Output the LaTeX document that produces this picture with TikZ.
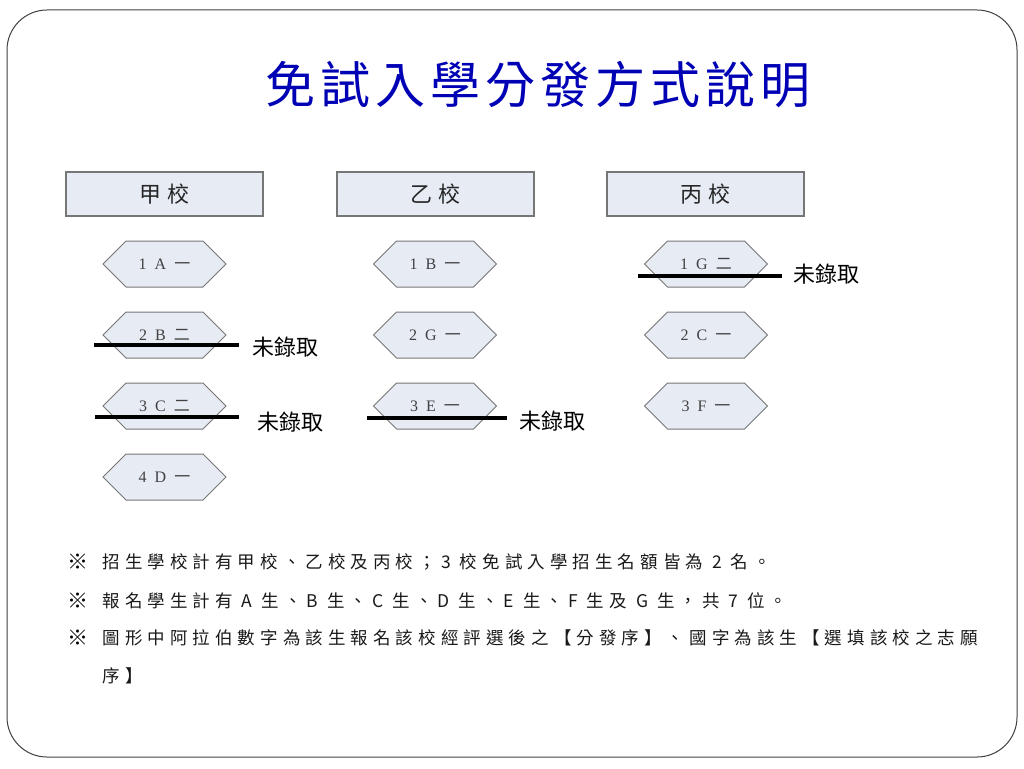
\documentclass[tikz,border=0pt]{standalone}
\usepackage{fontspec}
\setmainfont{Liberation Serif}
\newfontfamily\cjk{Noto Sans CJK TC}
\newfontfamily\cjktitle[LetterSpace=10]{Noto Sans CJK TC}
\newfontfamily\cjknote[LetterSpace=29]{Noto Sans CJK TC}
\usetikzlibrary{positioning,
        shapes.symbols,
        calc}
\definecolor{titleblue}{HTML}{0000B4}
\definecolor{boxfill}{HTML}{E7EBF4}
\definecolor{boxline}{HTML}{767676}

\begin{document}
\begin{tikzpicture}[x=1pt,y=-1pt,
        school/.style={rectangle,draw=boxline,line width=1.4pt,fill=boxfill,
                minimum width=197pt,minimum height=44pt,
                font=\cjk\fontsize{22}{22}\selectfont,text=black!85},
        choice/.style={signal,signal to=east and west,draw=boxline,line width=1pt,
                fill=boxfill,minimum width=123pt,minimum height=46pt,inner sep=0pt,
                font=\fontsize{16}{16}\selectfont,text=black!75},
        strike/.style={line width=3.5pt,black},
        reject/.style={anchor=west,font=\cjk\fontsize{22}{22}\selectfont},
        note/.style={anchor=west,font=\cjknote\fontsize{17.5}{17.5}\selectfont,text=black!90},
        refsign/.style={anchor=west,font=\cjk\bfseries\fontsize{21}{21}\selectfont,text=black}]
        \useasboundingbox (0,0) rectangle (1024,768);
        \draw[black!75,line width=1pt,rounded corners=40pt] (7,10) rectangle (1017,757);

        \node [font=\cjktitle\fontsize{50}{50}\selectfont,text=titleblue] (title) at (538,85) {免試入學分發方式說明};

        % schools
        \node [school] (sA) at (164.5,194) {甲\hspace{6pt}校};
        \node [school] (sB) at (435.5,194) {乙\hspace{6pt}校};
        \node [school] (sC) at (705.5,194) {丙\hspace{6pt}校};

        % choices
        \node [choice] (a1) at (164.5,264) {1\hspace{8pt}A\hspace{8pt}{\cjk 一}};
        \node [choice] (a2) at (164.5,335) {2\hspace{8pt}B\hspace{8pt}{\cjk 二}};
        \node [choice] (a3) at (164.5,406) {3\hspace{8pt}C\hspace{8pt}{\cjk 二}};
        \node [choice] (a4) at (164.5,477) {4\hspace{8pt}D\hspace{8pt}{\cjk 一}};
        \node [choice] (b1) at (435,264) {1\hspace{8pt}B\hspace{8pt}{\cjk 一}};
        \node [choice] (b2) at (435,335) {2\hspace{8pt}G\hspace{8pt}{\cjk 一}};
        \node [choice] (b3) at (435,406) {3\hspace{8pt}E\hspace{8pt}{\cjk 一}};
        \node [choice] (c1) at (706,264) {1\hspace{8pt}G\hspace{8pt}{\cjk 二}};
        \node [choice] (c2) at (706,335) {2\hspace{8pt}C\hspace{8pt}{\cjk 一}};
        \node [choice] (c3) at (706,406) {3\hspace{8pt}F\hspace{8pt}{\cjk 一}};

        % not admitted
        \draw [strike] ($(a2.west)+(-8,10)$) -- ($(a2.east)+(12,10)$) coordinate (ra2);
        \draw [strike] ($(a3.west)+(-7,11)$) -- ($(a3.east)+(12,11)$) coordinate (ra3);
        \draw [strike] ($(b3.west)+(-6,12)$) -- ($(b3.east)+(10,12)$) coordinate (rb3);
        \draw [strike] ($(c1.west)+(-6,12)$) -- ($(c1.east)+(14,12)$) coordinate (rc1);
        \node [reject] (na2) at ($(ra2)+(10,2)$) {未錄取};
        \node [reject] (na3) at ($(ra3)+(15,5)$) {未錄取};
        \node [reject] (nb3) at ($(rb3)+(9,3)$) {未錄取};
        \node [reject] (nc1) at ($(rc1)+(8,-2)$) {未錄取};

        % notes
        \node [refsign] (m1) at (64,562) {※};
        \node [refsign] (m2) at (64,601) {※};
        \node [refsign] (m3) at (64,638) {※};
        \node [note] (t1) at (99,562) {招生學校計有甲校、乙校及丙校；3 校免試入學招生名額皆為 2 名。};
        \node [note] (t2) at (99,601) {報名學生計有 A 生、B 生、C 生、D 生、E 生、F 生及 G 生，共 7 位。};
        \node [note] (t3) at (99,638) {圖形中阿拉伯數字為該生報名該校經評選後之【分發序】、國字為該生【選填該校之志願};
        \node [note] (t4) at (99,676) {序】};
\end{tikzpicture}
\end{document}
